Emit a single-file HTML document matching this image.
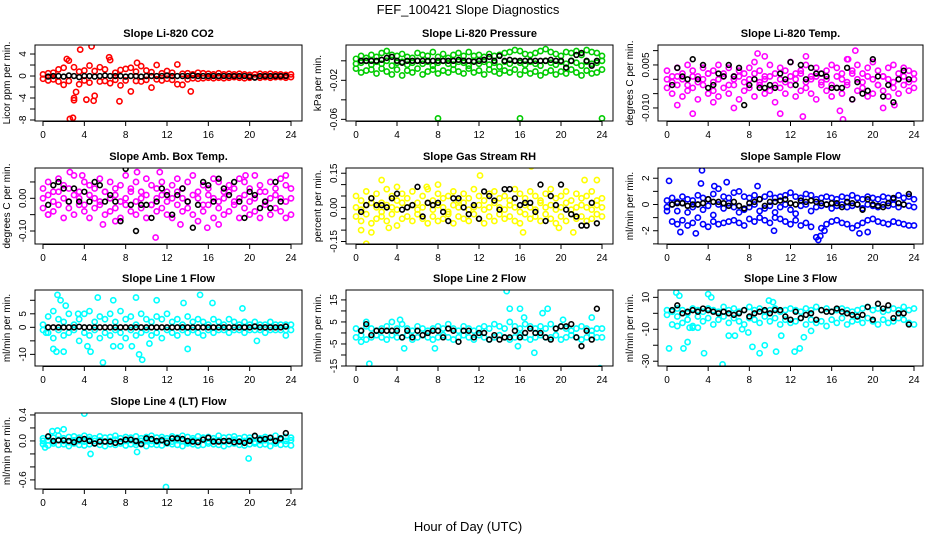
<!DOCTYPE html>
<html><head><meta charset="utf-8"><style>
body{margin:0;background:#fff;}
svg{display:block;font-family:"Liberation Sans",Arial,sans-serif;}
</style></head><body>
<svg id="chart" width="936" height="540" viewBox="0 0 936 540">
<text x="468" y="14" text-anchor="middle" font-size="13">FEF_100421  Slope Diagnostics</text>
<text x="468" y="531" text-anchor="middle" font-size="13">Hour of Day (UTC)</text>
</svg>
<script>
// ---- data (colored series sampled every 0.5 h from 0 h; black series every 0.5 h from 0.5 h) ----
const xTicks=[0,4,8,12,16,20,24];
const co2Hi=[0.3,0.5,0.6,1.2,1.5,2.8,1.6,0.8,1.0,1.9,0.9,1.6,1.2,2.9,0.6,1.1,1.3,1.5,0.8,1.8,1.0,0.7,2.0,0.5,0.9,0.6,2.1,0.4,0.5,0.3,0.6,0.5,0.4,0.3,0.5,0.3,0.4,0.3,0.4,0.3,0.2,0.3,0.4,0.3,0.4,0.3,0.3,0.2,0.3];
const co2Lo=[-0.5,-0.8,-0.6,-1.0,-1.6,-0.9,-4.0,-1.5,-0.8,-1.2,-3.6,-1.0,-0.9,-1.3,-0.7,-1.7,-0.8,-2.8,-0.9,-1.0,-0.7,-2.1,-0.6,-0.8,-0.5,-0.7,-1.5,-1.6,-0.6,-0.4,-0.5,-0.4,-0.3,-0.4,-0.3,-0.4,-0.3,-0.2,-0.3,-0.4,-0.3,-0.2,-0.3,-0.2,-0.3,-0.2,-0.2,-0.3,-0.2];
const co2OutT=[2.6,2.9,3.0,3.6,4.2,4.7,4.9,6.4,7.4,9.1,14.3,2.3,3.2];
const co2OutV=[-7.8,-7.6,-4.4,4.8,-4.3,5.4,-4.5,3.4,-4.6,2.4,-2.8,3.1,-2.9];
const co2Blk=[-0.1,0,0,-0.1,0.1,0,-0.2,0,0,-0.1,0,0.1,0,0,0,-0.1,0,0,-0.1,0,0,0,0,0.1,0,0,0,0,0.1,0,0,0,0,0,0,0,0,0,0,-0.1,-0.3,0,0,0,0,0,0];

const presHi=[2,5,3,6,4,8,10,6,5,7,4,3,8,6,5,9,4,7,3,6,8,5,9,5,6,4,7,5,6,8,9,11,10,7,6,8,10,12,9,7,5,9,8,10,6,11,9,8,5];
const presMid=[-3,-2,0,-4,-1,-3,0,-5,-2,-1,-4,-2,0,-3,-1,-5,-2,0,-3,-4,-1,-2,-5,0,-3,-1,-4,-2,-6,-1,-3,0,-2,-4,-1,-3,-5,0,-2,-4,-1,-3,0,-2,-5,-1,-3,-2,0];
const presLo=[-8,-12,-10,-9,-13,-8,-11,-14,-9,-15,-10,-12,-8,-14,-11,-9,-13,-10,-12,-9,-11,-13,-8,-12,-10,-14,-9,-11,-13,-10,-12,-9,-14,-10,-13,-11,-15,-12,-10,-14,-11,-13,-9,-12,-15,-10,-13,-12,-9];
const presOutT=[8,16,24];
const presOutV=[-59,-59,-59];
const presBlk=[0,0,0,0,1,3,4,0,-2,0,0,0,0,0,0,0,0,0,0,1,0,0,-1,0,1,4,0,5,0,1,0,0,0,0,0,0,0,1,0,0,-7,0,6,8,0,-5,0];

const tempHi=[3,1,4,2,5,3,1,4,2,3,5,2,4,1,3,2,4,6,3,1,5,2,4,3,6,2,3,5,1,4,2,3,5,4,2,7,3,5,2,4,6,3,1,4,5,2,4,3,2];
const tempMid=[0,-1,1,0,-2,1,-1,0,2,-1,0,1,-2,0,1,-1,0,2,-1,0,1,-2,0,-1,1,0,2,-1,0,1,-1,0,-2,1,0,-1,2,0,-1,1,0,-2,1,0,-1,0,1,-1,0];
const tempLo=[-3,-5,-2,-6,-4,-3,-7,-2,-5,-4,-6,-3,-5,-2,-7,-4,-3,-6,-2,-5,-4,-8,-3,-5,-2,-6,-4,-3,-5,-7,-2,-4,-6,-3,-5,-2,-7,-4,-3,-6,-5,-2,-4,-6,-3,-5,-2,-4,-3];
const tempOutT=[1,2.5,4.5,6.5,8.8,9.5,11,13.2,16.8,17.1,17.6,18.3,21,22.1,13.5];
const tempOutV=[-9,-12,-8,-10,9,8,-12,-13,-11,-14,7,10,-10,-9,8];
const tempBlk=[-2,4,1,0,7,0,5,-3,-2,2,1,5,1,4,-9,-2,0,-3,-3,-2,-3,2,0,6,-2,5,0,4,2,2,1,-3,-3,-3,4,-7,-1,-5,-4,7,1,-6,-2,-8,0,3,0];

const ambHi=[3,5,2,6,4,3,7,2,5,4,3,6,2,5,3,4,7,3,5,2,6,4,3,5,2,4,6,3,5,7,2,4,3,6,5,2,4,3,6,5,3,7,4,2,5,3,6,4,3];
const ambMid=[0,1,-1,2,0,-1,1,0,-2,1,0,-1,2,0,1,-1,0,2,-1,0,1,-2,0,1,-1,0,2,0,-1,1,0,-2,1,0,-1,0,2,-1,0,1,-1,0,2,-1,0,1,0,-1,0];
const ambLo=[-3,-5,-4,-2,-6,-3,-5,-2,-4,-6,-3,-2,-5,-4,-3,-6,-2,-4,-5,-3,-6,-2,-4,-3,-5,-6,-2,-4,-3,-5,-7,-4,-2,-6,-3,-5,-4,-2,-6,-3,-5,-4,-6,-2,-5,-3,-4,-6,-5];
const ambOutT=[2.6,3.8,5.8,9.1,10.9,11.3,13.3,15.9,17.0,19.6,23.5,0.5,7.0];
const ambOutV=[8,7,-8,8,-12,8,-8,-9,-8,7,7,-5,-7];
const ambBlk=[-2,4,5,3,-1,3,-1,2,-1,5,4,-1,1,-1,-7,9,-2,-10,-2,-2,-6,-1,3,1,-5,1,3,-1,-9,-2,5,4,-1,6,3,1,5,-1,-6,2,1,-3,-1,-3,5,-1,-17];

const rhHi=[5,3,7,4,6,2,8,5,3,6,4,7,2,5,8,3,6,4,5,7,3,6,4,8,5,3,6,7,4,5,3,8,6,4,7,5,3,6,8,4,5,7,3,6,4,5,7,3,4];
const rhMid=[0,-1,1,2,0,-2,1,0,-1,2,0,1,-1,0,2,-1,1,0,-2,1,0,2,-1,0,1,-1,0,2,0,-1,1,0,-2,1,0,-1,2,0,1,-1,0,2,-1,0,1,0,-1,1,0];
const rhLo=[-4,-6,-3,-7,-5,-4,-6,-3,-8,-5,-4,-6,-3,-5,-7,-4,-6,-5,-3,-7,-4,-5,-6,-3,-5,-7,-4,-6,-3,-5,-4,-6,-7,-3,-5,-4,-6,-3,-5,-7,-4,-6,-3,-5,-4,-6,-5,-3,-4];
const rhOutT=[0.5,1.0,1.5,2.5,3.2,4.0,12.1,16.3,17.1,19.8,21.2,22.3,23.5,8.0,6.9];
const rhOutV=[-10,-16,-11,12,-9,9,14,-11,18,-9,-11,12,12,10,9];
const rhBlk=[-2,1,4,1,1,0,4,6,-1,0,1,9,-4,2,1,2,-2,-6,4,4,0,-3,1,-5,7,5,3,-1,8,8,4,1,2,2,-2,10,-6,5,1,10,-1,-3,-4,-8,-8,2,-7];

const sfHi=[0.3,0.5,0.2,0.6,0.4,0.3,0.7,0.5,0.4,0.8,1.2,0.6,0.5,0.9,1.0,0.6,0.5,0.7,0.4,0.6,0.8,0.5,0.6,0.7,0.9,0.6,0.5,0.8,0.7,0.4,0.5,0.6,0.5,0.4,0.6,0.5,0.7,0.5,0.4,0.6,0.5,0.4,0.6,0.5,0.4,0.7,0.5,0.6,0.4];
const sfMid=[-0.2,0,-0.5,0.1,-0.6,-0.2,0,-0.4,-0.1,-0.8,0,-0.3,0.1,-0.2,-0.6,-0.4,-0.2,0,-0.5,-0.3,-0.1,-0.6,-0.2,0,-0.4,-0.7,-0.1,0,-0.5,-0.2,-0.1,0,-0.3,-0.1,0,-0.2,-0.1,0,-0.3,0,-0.1,-0.2,0,-0.1,0,-0.2,0,-0.1,-0.2];
const sfLo=[-0.5,-1.3,-1.5,-1.2,-1.6,-1.4,-1.0,-1.5,-1.7,-1.3,-1.5,-1.4,-1.3,-1.2,-1.4,-1.6,-1.1,-1.3,-1.0,-1.2,-1.4,-1.0,-1.1,-1.3,-1.5,-1.2,-1.6,-1.4,-1.7,-2.5,-1.8,-1.5,-1.3,-1.2,-1.4,-1.5,-1.8,-1.6,-1.4,-1.2,-1.1,-1.3,-1.4,-1.5,-1.3,-1.4,-1.5,-1.6,-1.6];
const sfOutT=[0.2,1.3,2.8,3.4,3.3,5.8,10.4,14.7,14.9,15.3,18.7,19.5,4.6,8.8];
const sfOutV=[1.8,-2.1,-2.2,2.6,1.6,1.7,-2.0,-2.7,-2.4,-2.0,-2.2,-2.1,1.4,1.4];
const sfBlk=[0,0.1,0.1,-0.1,0,0,0.1,0.4,0.2,0.2,0.1,-0.1,0.2,-0.1,-0.3,0.1,0.2,0.4,-0.1,0.2,0.2,0.3,0.4,0.1,0,0.3,0.2,0.3,0.2,0.1,0,0.1,0.1,-0.2,0.2,0.1,0,-0.4,0.4,0,-0.1,-0.2,0.1,0.5,0.1,0,0.8];

const l1Hi=[1,4,6,3,2,5,1,3,5,6,2,4,3,5,2,6,3,4,1,5,3,2,4,3,5,2,3,1,4,2,3,2,1,3,2,1,3,2,1,2,1,2,1,1,2,1,1,1,1];
const l1Lo=[-1,-2,-4,-1,-3,-2,-1,-5,-2,-3,-1,-4,-2,-3,-1,-2,-4,-1,-3,-2,-1,-3,-2,-4,-1,-2,-3,-1,-2,-1,-2,-3,-1,-2,-1,-1,-2,-1,-1,-2,-1,-1,-1,-2,-1,-1,-1,-1,-1];
const l1OutT=[0.3,1.0,1.3,1.4,1.7,2.0,2.2,5.3,5.8,6.8,4.6,4.3,7.5,9.0,9.3,9.6,10.3,11.0,13.6,14.0,15.2,16.4,19.3,20.7,23.5,3.4,8.6,6.8];
const l1OutV=[-2,-8,-9,12,10,-9,8,11,-13,10,-9,-7,-7,11,-10,-12,-6,10,9,-8,12,9,7,-5,-3,5,-7,-7];
const l1Blk=[0,0,0,0,0,0,0.2,0,0,0,0,0,0,0,0,0,0,0,0,0,0,0,0,0,0,0,0,0,0,0,0,0,0,0,0,0,0,0,0,0,0.3,0,0,0,0,0,0.3];

const l2Hi=[2,1,3,2,1,2,3,1,2,4,2,1,3,2,1,2,3,2,4,2,1,3,2,1,2,3,2,4,3,2,5,3,2,4,3,2,3,2,4,2,3,2,1,2,3,2,1,2,2];
const l2Lo=[-2,-1,-3,-2,-1,-2,-3,-1,-2,-2,-1,-3,-2,-1,-2,-3,-2,-1,-2,-3,-2,-1,-2,-3,-1,-2,-3,-2,-1,-2,-3,-2,-1,-2,-3,-2,-1,-2,-2,-1,-3,-2,-1,-2,-3,-2,-1,-2,-2];
const l2OutT=[0.5,1.3,1.0,4.3,4.7,7.7,14.7,15.0,16.0,16.4,17.4,18.2,18.7,15.8,20.2,23.0,23.8,3.5];
const l2OutV=[-4,-14,5,6,-7,-7,19,11,11,7,-9,9,11,-6,6,7,-16,5];
const l2Blk=[1,4,-1,1,1,1,1,1,-2,1,-2,1,-1,0,1,1,-2,2,1,-4,1,1,-2,0,0,-3,-1,-3,-2,-2,1,-2,0,2,0,0,-2,-3,2,3,3,4,-2,-6,1,-3,11];

const l3Hi=[2,1,3,2,0,3,2,1,3,2,1,4,2,3,1,2,4,2,3,1,2,3,1,2,3,2,1,3,2,4,2,3,1,2,3,2,1,2,3,4,2,3,1,2,3,2,4,2,3];
const l3Lo=[-1,-7,-2,-6,-4,-8,-2,-5,-3,-7,-4,-2,-6,-3,-5,-7,-3,-4,-6,-2,-5,-3,-7,-4,-6,-5,-3,-7,-4,-6,-5,-8,-4,-6,-3,-7,-5,-4,-6,-3,-5,-7,-4,-6,-5,-3,-4,-6,-7];
const l3OutT=[0.2,0.9,1.2,1.6,2.0,2.2,3.6,4.0,4.3,5.4,6.0,6.6,7.3,7.9,8.3,9.0,9.5,10.6,11.1,12.4,12.9,14.0,2.5,3.0,9.9,10.3,1.0,13.3];
const l3OutV=[-22,13,11,-22,-18,-9,-25,12,10,-32,-14,-14,-10,-12,-21,-25,-20,-24,-14,-24,-22,-11,-9,-9,8,7,-8,-15];
const l3Blk=[2,5,0,1,2,1,3,2,1,0,1,0,-1,0,2,-2,0,1,2,0,2,2,-2,-4,1,-3,-1,0,-4,2,1,1,3,1,0,-1,-2,-1,4,-4,6,3,5,-3,0,0,-7];

const l4Hi=[.04,.06,.05,.08,.04,.06,.07,.05,.08,.06,.04,.07,.05,.06,.08,.04,.06,.05,.07,.04,.06,.08,.05,.06,.04,.07,.05,.08,.06,.04,.07,.05,.06,.04,.08,.05,.06,.07,.04,.06,.05,.07,.04,.06,.05,.08,.04,.06,.05];
const l4Mid=[0,.01,-.01,.02,0,-.02,.01,0,-.01,.02,0,.01,-.01,0,.02,-.01,0,.01,-.02,0,.01,0,-.01,.02,0,-.01,.01,0,-.02,.01,0,.02,-.01,0,.01,-.01,0,.02,-.01,0,.01,-.02,0,.01,0,-.01,.02,0,.01];
const l4Lo=[-.05,-.07,-.04,-.06,-.05,-.08,-.04,-.06,-.07,-.05,-.04,-.06,-.08,-.05,-.06,-.04,-.07,-.05,-.06,-.04,-.08,-.05,-.06,-.07,-.04,-.05,-.06,-.08,-.04,-.05,-.07,-.06,-.04,-.05,-.06,-.08,-.05,-.04,-.06,-.07,-.05,-.04,-.06,-.05,-.08,-.04,-.06,-.05,-.07];
const l4OutT=[4.0,4.6,1.4,2.0,11.9,19.9,0.2,0.9,9.1];
const l4OutV=[.42,-.2,.16,.18,-.71,-.27,-.1,.15,-.17];
const l4Blk=[.07,0,.01,.01,0,-.02,.02,.03,0,-.04,-.01,-.01,-.01,-.03,-.01,.02,.02,0,-.05,.04,.03,0,.01,-.03,.04,.04,.03,0,-.01,-.02,.02,.05,-.01,-.01,0,0,-.02,-.01,-.03,0,.08,.02,.03,.05,0,.04,.12];

// tick values & labels
const t1V=[4,2,0,-2,-4,-6,-8], t1L=['4','','0','','-4','','-8'];
const t2V=[0,-20,-40,-60], t2L=['','-0.02','','-0.06'];
const t3V=[10,5,0,-5,-10], t3L=['','0.005','','','-0.010'];
const t4V=[5,0,-5,-10], t4L=['','0.00','','-0.10'];
const t5V=[15,10,5,0,-5,-10,-15], t5L=['0.15','','','0.00','','','-0.15'];
const t6V=[2,1,0,-1,-2,-3], t6L=['2','','0','','-2',''];
const t7V=[10,5,0,-5,-10], t7L=['','5','0','','-10'];
const t8V=[15,10,5,0,-5,-10,-15], t8L=['15','','5','','-5','','-15'];
const t9V=[10,0,-10,-20,-30], t9L=['10','','-10','','-30'];
const t10V=[.4,.2,0,-.2,-.4,-.6], t10L=['0.4','','0.0','','','-0.6'];

const cols=[[35,302,43,291],[346,613,356,602],[658,923,667,914]];
const rows=[[45,121],[168,244],[290,366],[413,489]];
const panels=[
 {id:'co2',title:'Slope Li-820 CO2',ylab:'Licor ppm per min.',c:0,r:0,top:5.64,bot:-8.18,col:'#ff0000',ser:[co2Hi,co2Lo],ot:co2OutT,ov:co2OutV,blk:co2Blk,tv:t1V,tl:t1L},
 {id:'pressure',title:'Slope Li-820 Pressure',ylab:'kPa per min.',c:1,r:0,top:16.2,bot:-61.7,col:'#00cc00',ser:[presHi,presMid,presLo],ot:presOutT,ov:presOutV,blk:presBlk,tv:t2V,tl:t2L},
 {id:'temp',title:'Slope Li-820 Temp.',ylab:'degrees C per min.',c:2,r:0,top:11.96,bot:-14.55,col:'#ff00ff',ser:[tempHi,tempMid,tempLo],ot:tempOutT,ov:tempOutV,blk:tempBlk,tv:t3V,tl:t3L},
 {id:'amb-box-temp',title:'Slope Amb. Box Temp.',ylab:'degrees C per min.',c:0,r:1,top:9.27,bot:-13.98,col:'#ff00ff',ser:[ambHi,ambMid,ambLo],ot:ambOutT,ov:ambOutV,blk:ambBlk,tv:t4V,tl:t4L},
 {id:'gas-rh',title:'Slope Gas Stream RH',ylab:'percent per min.',c:1,r:1,top:17.3,bot:-16.1,col:'#ffff00',ser:[rhHi,rhMid,rhLo],ot:rhOutT,ov:rhOutV,blk:rhBlk,tv:t5V,tl:t5L},
 {id:'sample-flow',title:'Slope Sample Flow',ylab:'ml/min per min.',c:2,r:1,top:2.78,bot:-3.01,col:'#0000ff',ser:[sfHi,sfMid,sfLo],ot:sfOutT,ov:sfOutV,blk:sfBlk,tv:t6V,tl:t6L},
 {id:'line1-flow',title:'Slope Line 1 Flow',ylab:'ml/min per min.',c:0,r:2,top:13.8,bot:-14.3,col:'#00ffff',ser:[l1Hi,l1Lo],ot:l1OutT,ov:l1OutV,blk:l1Blk,tv:t7V,tl:t7L},
 {id:'line2-flow',title:'Slope Line 2 Flow',ylab:'ml/min per min.',c:1,r:2,top:19.5,bot:-15,col:'#00ffff',ser:[l2Hi,l2Lo],ot:l2OutT,ov:l2OutV,blk:l2Blk,tv:t8V,tl:t8L},
 {id:'line3-flow',title:'Slope Line 3 Flow',ylab:'ml/min per min.',c:2,r:2,top:14.6,bot:-33,col:'#00ffff',ser:[l3Hi,l3Lo],ot:l3OutT,ov:l3OutV,blk:l3Blk,tv:t9V,tl:t9L},
 {id:'line4-flow',title:'Slope Line 4 (LT) Flow',ylab:'ml/min per min.',c:0,r:3,top:0.43,bot:-0.74,col:'#00ffff',ser:[l4Hi,l4Mid,l4Lo],ot:l4OutT,ov:l4OutV,blk:l4Blk,tv:t10V,tl:t10L}
];

const NS='http://www.w3.org/2000/svg';
const svg=document.getElementById('chart');
function mk(tag,attrs,parent){const e=document.createElementNS(NS,tag);for(const k in attrs)e.setAttribute(k,attrs[k]);parent.appendChild(e);return e;}

panels.forEach(p=>{
 const [bx0,bx1,hx0,hx24]=cols[p.c];const [by0,by1]=rows[p.r];
 const xS=h=>hx0+(hx24-hx0)*h/24;
 const yS=v=>by0+(p.top-v)/(p.top-p.bot)*(by1-by0);
 const g=mk('g',{},svg);
 
 
 const clip=mk('clipPath',{id:'clip-'+p.id},g);
 mk('rect',{x:bx0,y:by0,width:bx1-bx0,height:by1-by0},clip);
 const pts=mk('g',{'clip-path':'url(#clip-'+p.id+')',fill:'none','stroke-width':1.6},g);
 
 
 p.ser.forEach(arr=>arr.forEach((v,i)=>{
   const c=mk('circle',{cx:xS(i*0.5),cy:yS(v),r:2.6,stroke:p.col},pts);
   
   
 }));
 p.ot.forEach((t,i)=>{
   const c=mk('circle',{cx:xS(t),cy:yS(p.ov[i]),r:2.6,stroke:p.col},pts);
   
   
 });
 p.blk.forEach((v,i)=>{
   const c=mk('circle',{cx:xS(0.5+i*0.5),cy:yS(v),r:2.4,stroke:'#000'},pts);
   
   
 });
 const box=mk('rect',{x:bx0,y:by0,width:bx1-bx0,height:by1-by0,fill:'none',stroke:'#000','stroke-width':1},g);
 
 
 const tt=mk('text',{x:(bx0+bx1)/2,y:by0-8,'text-anchor':'middle','font-size':11,'font-weight':'bold'},g);
 tt.textContent=p.title;
 
 
 // x axis
 mk('line',{x1:xS(0),x2:xS(24),y1:by1+0.5,y2:by1+0.5,stroke:'#000'},g);
 xTicks.forEach(h=>{
   mk('line',{x1:xS(h),x2:xS(h),y1:by1,y2:by1+5,stroke:'#000'},g);
   const tx=mk('text',{x:xS(h),y:by1+17,'text-anchor':'middle','font-size':10},g);
   tx.textContent=h;
   
   
 });
 // y axis
 mk('line',{x1:bx0,x2:bx0,y1:yS(p.tv[0]),y2:yS(p.tv[p.tv.length-1]),stroke:'#000'},g);
 p.tv.forEach((v,i)=>{
   const y=yS(v);
   mk('line',{x1:bx0-5,x2:bx0,y1:y,y2:y,stroke:'#000'},g);
   if(p.tl[i]){
     const ty=mk('text',{x:bx0-9,y:y,'text-anchor':'middle','font-size':10,transform:'rotate(-90 '+(bx0-9)+' '+y+')'},g);
     ty.textContent=p.tl[i];
     
     
   }
 });
 const yc=(by0+by1)/2;
 const yl=mk('text',{x:bx0-25,y:yc,'text-anchor':'middle','font-size':10,transform:'rotate(-90 '+(bx0-25)+' '+yc+')'},g);
 yl.textContent=p.ylab;
 
 
});
</script>
</body></html>
